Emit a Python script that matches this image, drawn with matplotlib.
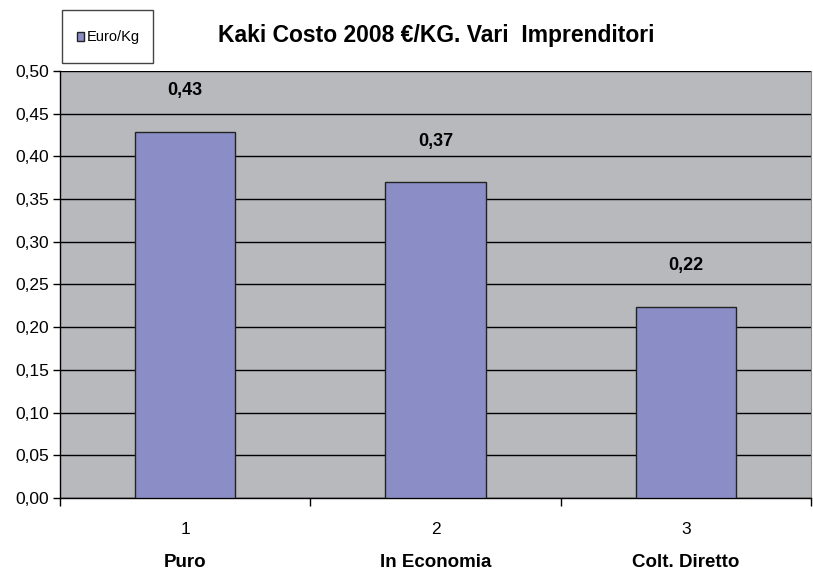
import matplotlib.pyplot as plt
from matplotlib.patches import Rectangle

plt.rcParams['font.family'] = ['Liberation Sans', 'DejaVu Sans']

# Data
positions = ['1', '2', '3']
categories = ['Puro', 'In Economia', 'Colt. Diretto']
costs = [0.429, 0.370, 0.224]
cost_labels = ['0,43', '0,37', '0,22']
y_ticks = [0.00, 0.05, 0.10, 0.15, 0.20, 0.25, 0.30, 0.35, 0.40, 0.45, 0.50]

fig = plt.figure(figsize=(8.13, 5.72), dpi=100)
ax = fig.add_axes([0.0738, 0.1294, 0.9237, 0.7465])
ax.set_facecolor('#B8B9BC')

x = list(range(len(costs)))
ax.set_axisbelow(True)
ax.yaxis.grid(True, color='black', linewidth=1)
ax.bar(x, costs, width=0.4, color='#8B8EC6', edgecolor='#222222', linewidth=1, zorder=3)

# Value labels above the bars
for xi, v, lab in zip(x, costs, cost_labels):
    ax.text(xi, v + 0.048, lab, ha='center', va='center', fontsize=13, fontweight='bold')

ax.set_xlim(-0.5, 2.5)
ax.set_ylim(0, 0.5)
ax.set_yticks(y_ticks)
ax.set_yticklabels([f'{t:.2f}'.replace('.', ',') for t in y_ticks], fontsize=12.5)
ax.tick_params(axis='y', direction='out', length=5, width=1, color='black', pad=3)

ax.set_xticks(x)
ax.set_xticklabels(positions, fontsize=12.5)
ax.tick_params(axis='x', which='major', length=0, pad=17)
ax.set_xticks([-0.5, 0.5, 1.5, 2.5], minor=True)
ax.tick_params(axis='x', which='minor', direction='out', length=6, width=1, color='black')

for xi, name in zip(x, categories):
    ax.text(xi, -0.075, name, ha='center', va='center', fontsize=13.5, fontweight='bold')

for s in ['left', 'bottom']:
    ax.spines[s].set_color('black')
    ax.spines[s].set_linewidth(1)
ax.spines['top'].set_visible(False)
ax.spines['right'].set_color('#888888')

# Title
fig.text(0.537, 0.938, 'Kaki Costo 2008 €/KG. Vari  Imprenditori', ha='center', va='center',
         fontsize=16.5, fontweight='bold')

# Legend box
fig.patches.append(Rectangle((62 / 813, 1 - 63 / 572), 91 / 813, 53 / 572, transform=fig.transFigure,
                             facecolor='white', edgecolor='#444444', linewidth=1))
fig.patches.append(Rectangle((77 / 813, 1 - 41 / 572), 7 / 813, 9 / 572, transform=fig.transFigure,
                             facecolor='#8B8EC6', edgecolor='#222222', linewidth=1))
fig.text(87 / 813, 1 - 37 / 572, 'Euro/Kg', ha='left', va='center', fontsize=10.5)

plt.savefig('out.png', dpi=100)
